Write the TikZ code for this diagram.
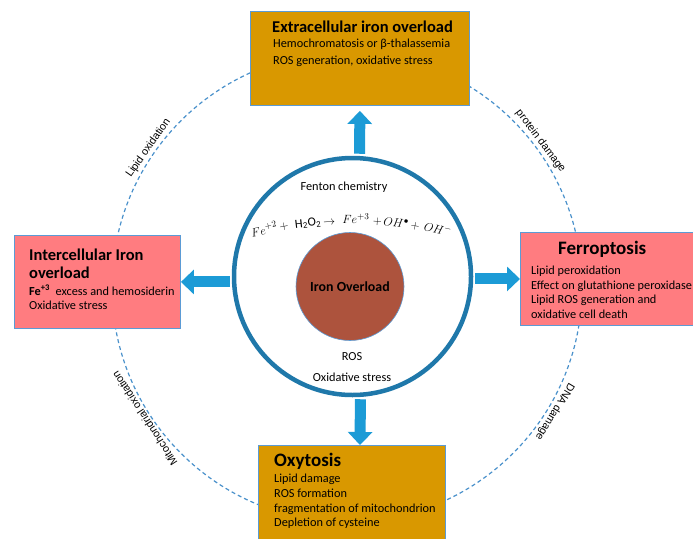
\documentclass[tikz,border=0pt]{standalone}
\usepackage{fontspec}
\setmainfont{Carlito}
\newfontfamily\labelfont{Liberation Sans}
\usepackage{amsmath}
\usetikzlibrary{arrows.meta}
\definecolor{goldbox}{RGB}{217,152,0}
\definecolor{pinkbox}{RGB}{255,124,128}
\definecolor{boxline}{RGB}{91,155,213}
\definecolor{arrowblue}{RGB}{28,155,214}
\definecolor{ringblue}{RGB}{31,120,170}
\definecolor{dashblue}{RGB}{74,145,203}
\definecolor{ironbrown}{RGB}{173,83,61}

\begin{document}
\begin{tikzpicture}[x=1pt, y=1pt,
  gbox/.style={rectangle, draw=boxline, line width=0.9pt, fill=goldbox, anchor=north west, inner sep=0},
  pbox/.style={gbox, fill=pinkbox},
  head/.style={anchor=base west, inner sep=0, align=left, font=\fontsize{16.5}{18.3}\selectfont\bfseries},
  body/.style={anchor=base west, inner sep=0, align=left, font=\fontsize{12.3}{14.4}\selectfont},
  ctext/.style={anchor=base, inner sep=0, font=\fontsize{12.3}{14.4}\selectfont},
  eqpart/.style={anchor=base, inner sep=0, font=\fontsize{12.5}{14}\selectfont},
  ringlabel/.style={anchor=south, inner sep=1.5pt, font=\labelfont\fontsize{10.8}{12}\selectfont},
  bigarrow/.style={draw=arrowblue, line width=11pt, -{Triangle[width=24pt,length=13pt]}}]
\useasboundingbox (0,0) rectangle (693,-538);

% dashed ring and its labels
\node[circle, draw=dashblue, line width=1.2pt, dash pattern=on 4pt off 3pt, minimum size=470] (ring) at (347,-287) {};
\node[ringlabel, rotate=55] (lipid) at (ring.145) {Lipid oxidation};
\node[ringlabel, rotate=-53] (protein) at (ring.37) {protein damage};
\node[ringlabel, rotate=123] (mito) at (ring.213) {Mitochondrial oxidation};
\node[ringlabel, rotate=-121] (dna) at (ring.329) {DNA damage};

% boxes
\node[gbox, minimum width=219, minimum height=94] (extra) at (250,-11) {};
\node[pbox, minimum width=166, minimum height=93] (intra) at (14,-235) {};
\node[pbox, minimum width=200, minimum height=93] (ferro) at (520,-232) {};
\node[gbox, minimum width=187, minimum height=110] (oxy) at (258,-445) {};

% box texts (base = last line)
\node[head] (extrahead) at (272,-32) {Extracellular iron overload};
\node[body, font=\fontsize{12.3}{16.3}\selectfont] (extrabody) at (273,-64)
  {Hemochromatosis or β-thalassemia\\ROS generation, oxidative stress};
\node[head] (intrahead) at (29,-278.3) {Intercellular Iron\\overload};
\node[body] (intrabody) at (29,-309.4)
  {\textbf{Fe\textsuperscript{+3}}\ \ excess and hemosiderin\\Oxidative stress};
\node[head, font=\fontsize{19}{21}\selectfont\bfseries] (ferrohead) at (558,-254.3) {Ferroptosis};
\node[body] (ferrobody) at (531,-318)
  {Lipid peroxidation\\Effect on glutathione peroxidase\\Lipid ROS generation and\\oxidative cell death};
\node[head, font=\fontsize{19}{21}\selectfont\bfseries] (oxyhead) at (274,-466) {Oxytosis};
\node[body, font=\fontsize{12.3}{14.67}\selectfont] (oxybody) at (274,-526.7)
  {Lipid damage\\ROS formation\\fragmentation of mitochondrion\\Depletion of cysteine};

% centre
\node[circle, draw=ringblue, line width=4.5pt, fill=white, minimum size=237] (fenton) at (352.5,-276.5) {};
\node[circle, draw=boxline, line width=0.6pt, fill=ironbrown, minimum size=108,
  font=\fontsize{13.9}{16}\selectfont\bfseries] (core) at (350,-286.5) {Iron Overload};
\node[ctext] (fentonlbl) at (344,-190) {Fenton chemistry};
\node[ctext] (ros) at (352,-360) {ROS};
\node[ctext] (oxstress) at (352,-381.7) {Oxidative stress};

% reaction along an arc
\coordinate (arcc) at (352,-604);
\foreach \a/\t [count=\i] in {13.2/{$Fe^{+2}$}, 10.2/{$+$}, 6.6/{$\mathrm{H_2O_2}$}, 3.4/{$\rightarrow$},
    -0.6/{$Fe^{+3}$}, -3.8/{$+$}, -6.6/{$OH^{\bullet}$}, -9.5/{$+$}, -12.9/{$OH^{-}$}}
  \node[eqpart, rotate=\a] (eq\i) at ([shift={(90+\a:380)}]arcc) {\t};

% arrows
\draw[bigarrow, shorten <=2pt, shorten >=5pt] ([xshift=7pt]fenton.north) -- (extra.south);
\draw[bigarrow, shorten <=2pt] ([xshift=8pt]fenton.south) -- ([xshift=8pt]oxy.north);
\draw[bigarrow, shorten <=2pt] (intra.east -| fenton.west) -- (intra.east);
\draw[bigarrow, shorten <=2pt] (ferro.west -| fenton.east) -- (ferro.west);
\end{tikzpicture}
\end{document}
